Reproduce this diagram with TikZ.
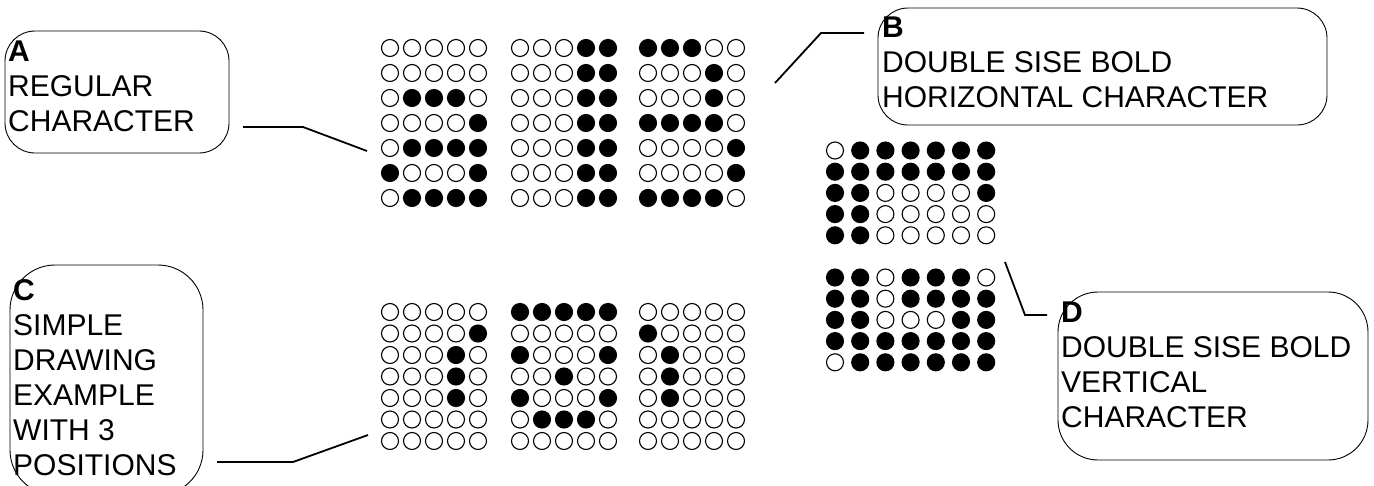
\documentclass[tikz,border=0pt]{standalone}
\usepackage{fontspec}
\setmainfont{Liberation Sans}
\newcommand\dotgrid[6]{% #1 name, #2 x0, #3 y0, #4 dx, #5 dy, #6 rows
  \foreach \r [count=\j from 0] in {#6} {%
    \foreach \v [count=\i from 0] in \r {%
      \ifnum\v=1
        \node[dot,fill=black] (#1-\i-\j) at ({#2+\i*#4},{#3+\j*#5}) {};
      \else
        \node[dot] (#1-\i-\j) at ({#2+\i*#4},{#3+\j*#5}) {};
      \fi
    }%
  }%
}
\begin{document}
\begin{tikzpicture}[x=1pt,y=-1pt,
  dot/.style={circle,draw,line width=1.1pt,minimum size=17pt,inner sep=0pt,fill=white},
  box/.style={draw,line width=0.9pt,rounded corners=#1,outer sep=0pt,inner sep=0pt},
  lbl/.style={anchor=north west,inner sep=0pt,align=left,font=\fontsize{30}{35}\selectfont},
  lead/.style={line width=1.8pt}]
\useasboundingbox (0,0) rectangle (1374,485);

% callout boxes
\node[box=30pt,minimum width=224pt,minimum height=122pt] (boxA) at (117,92) {};
\node[box=30pt,minimum width=449pt,minimum height=117pt] (boxB) at (1102.5,66.5) {};
\node[box=45pt,minimum width=193pt,minimum height=230pt] (boxC) at (106.5,380) {};
\node[box=40pt,minimum width=310pt,minimum height=168pt] (boxD) at (1213,376) {};

% texts
\node[lbl] (ta) at (8,41) {\textbf{A}\\REGULAR\\CHARACTER};
\node[lbl] (tb) at (882,17) {\textbf{B}\\DOUBLE SISE BOLD\\HORIZONTAL CHARACTER};
\node[lbl] (tc) at (13,279) {\textbf{C}\\SIMPLE\\DRAWING\\EXAMPLE\\WITH 3\\POSITIONS};
\node[lbl] (td) at (1061,302) {\textbf{D}\\DOUBLE SISE BOLD\\VERTICAL\\CHARACTER};

% grid A
\dotgrid{ga}{390}{48}{22}{25}{{0,0,0,0,0},{0,0,0,0,0},{0,1,1,1,0},{0,0,0,0,1},{0,1,1,1,1},{1,0,0,0,1},{0,1,1,1,1}}
% grids B
\dotgrid{gb1}{520}{48}{22}{25}{{0,0,0,1,1},{0,0,0,1,1},{0,0,0,1,1},{0,0,0,1,1},{0,0,0,1,1},{0,0,0,1,1},{0,0,0,1,1}}
\dotgrid{gb2}{648}{48}{22}{25}{{1,1,1,0,0},{0,0,0,1,0},{0,0,0,1,0},{1,1,1,1,0},{0,0,0,0,1},{0,0,0,0,1},{1,1,1,1,0}}
% grids D
\dotgrid{gd1}{835}{150.5}{25.2}{21.2}{{0,1,1,1,1,1,1},{1,1,1,1,1,1,1},{1,1,0,0,0,0,1},{1,1,0,0,0,0,0},{1,1,0,0,0,0,0}}
\dotgrid{gd2}{835}{277.5}{25.2}{21.2}{{1,1,0,1,1,1,0},{1,1,0,1,1,1,1},{1,1,0,0,0,1,1},{1,1,1,1,1,1,1},{0,1,1,1,1,1,1}}
% grids C
\dotgrid{gc1}{390}{312}{22}{21.5}{{0,0,0,0,0},{0,0,0,0,1},{0,0,0,1,0},{0,0,0,1,0},{0,0,0,1,0},{0,0,0,0,0},{0,0,0,0,0}}
\dotgrid{gc2}{520}{312}{22}{21.5}{{1,1,1,1,1},{0,0,0,0,0},{1,0,0,0,1},{0,0,1,0,0},{1,0,0,0,1},{0,1,1,1,0},{0,0,0,0,0}}
\dotgrid{gc3}{648}{312}{22}{21.5}{{0,0,0,0,0},{1,0,0,0,0},{0,1,0,0,0},{0,1,0,0,0},{0,1,0,0,0},{0,0,0,0,0},{0,0,0,0,0}}

% leader lines
\coordinate (a1) at (243,127); \coordinate (a2) at (303,127); \coordinate (a3) at (367,151);
\coordinate (b1) at (775,83);  \coordinate (b2) at (821,33);  \coordinate (b3) at (864,33);
\coordinate (c1) at (217,462); \coordinate (c2) at (293,462); \coordinate (c3) at (368,435);
\coordinate (d1) at (1005,262); \coordinate (d2) at (1025,315); \coordinate (d3) at (1047,315);
\draw[lead] (a1) -- (a2) -- (a3);
\draw[lead] (b1) -- (b2) -- (b3);
\draw[lead] (c1) -- (c2) -- (c3);
\draw[lead] (d1) -- (d2) -- (d3);
\end{tikzpicture}
\end{document}
